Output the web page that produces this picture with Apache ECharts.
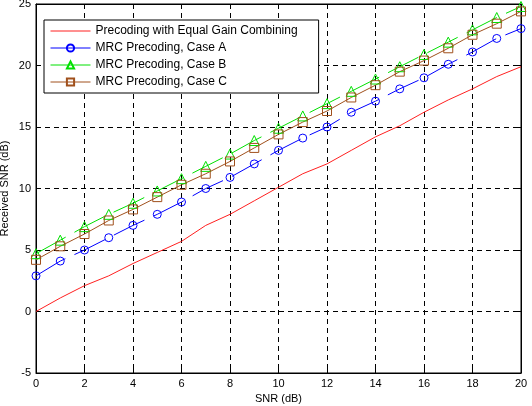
<!DOCTYPE html>
<html lang="en">
<head>
    <meta charset="utf-8">
    <title>Received SNR</title>
    <script src="https://cdn.jsdelivr.net/npm/echarts@6/dist/echarts.min.js"></script>
    <style>
        html, body { margin: 0; padding: 0; background: #fff; }
        #main { width: 532px; height: 406px; }
    </style>
</head>
<body>
<div id="main"></div>
<script>
    // SNR (dB) on the x axis
    var snr = [0, 1, 2, 3, 4, 5, 6, 7, 8, 9, 10, 11, 12, 13, 14, 15, 16, 17, 18, 19, 20];
    var egc = [0, 1.1, 2.1, 2.9, 3.9, 4.8, 5.7, 7.0, 7.9, 9.0, 10.1, 11.2, 12.0, 13.1, 14.2, 15.1, 16.2, 17.2, 18.1, 19.1, 19.9];
    var caseA = [2.9, 4.1, 5.0, 6.0, 7.0, 7.9, 8.9, 10.0, 10.9, 12.0, 13.1, 14.1, 15.0, 16.2, 17.1, 18.1, 19.0, 20.1, 21.1, 22.2, 23.0];
    var caseB = [4.7, 5.8, 6.9, 7.9, 8.8, 9.8, 10.8, 11.8, 12.8, 13.9, 14.9, 15.9, 16.9, 17.9, 18.9, 19.9, 20.9, 21.9, 22.9, 23.9, 24.8];
    var caseC = [4.2, 5.3, 6.3, 7.4, 8.3, 9.3, 10.3, 11.2, 12.2, 13.3, 14.4, 15.4, 16.3, 17.4, 18.4, 19.5, 20.4, 21.4, 22.5, 23.4, 24.4];
    var names = ['Precoding with Equal Gain Combining', 'MRC Precoding, Case A', 'MRC Precoding, Case B', 'MRC Precoding, Case C'];

    function pairs(ys) {
        return snr.map(function (x, i) { return [x, ys[i]]; });
    }

    var font = 'Arial, "Liberation Sans", sans-serif';
    var myChart = echarts.init(document.getElementById('main'));

    // hollow markers, the line shows through them like in matlab
    function marker(c) {
        return { color: 'rgba(255,255,255,0)', borderColor: c, borderWidth: 1 };
    }

    var option = {
        animation: false,
        backgroundColor: '#fff',
        grid: {
            left: 36, right: 11, top: 4, bottom: 33, outerBoundsMode: 'none',
            show: true, borderColor: '#000', borderWidth: 1
        },
        legend: {
            orient: 'vertical',
            left: 44,
            top: 20,
            padding: [5, 21, 5, 6],
            itemGap: 5,
            itemWidth: 40,
            itemHeight: 9,
            borderColor: '#000',
            borderWidth: 1,
            backgroundColor: '#fff',
            textStyle: { fontFamily: font, fontSize: 12, color: '#000' },
            data: [
                { name: names[0], itemStyle: { opacity: 0 }, lineStyle: { width: 1 } },
                { name: names[1], lineStyle: { type: 'solid', width: 1 } },
                { name: names[2], lineStyle: { type: 'solid', width: 1 } },
                { name: names[3], lineStyle: { width: 1 } }
            ]
        },
        xAxis: [{
            type: 'value', min: 0, max: 20, interval: 2,
            name: 'SNR (dB)', nameLocation: 'middle', nameGap: 19,
            nameTextStyle: { fontFamily: font, fontSize: 11, color: '#000' },
            axisLine: { onZero: false, lineStyle: { color: '#000' } },
            axisTick: { inside: true, length: 4, lineStyle: { color: '#000' } },
            axisLabel: { fontFamily: font, fontSize: 11, color: '#000', margin: 5 },
            splitLine: { show: true, lineStyle: { color: '#000', type: [5, 4] } }
        }, {
            type: 'value', min: 0, max: 20, interval: 2, position: 'top',
            axisLine: { onZero: false, lineStyle: { color: '#000' } },
            axisTick: { inside: true, length: 4, lineStyle: { color: '#000' } },
            axisLabel: { show: false }, splitLine: { show: false }
        }],
        yAxis: [{
            type: 'value', min: -5, max: 25, interval: 5,
            name: 'Received SNR (dB)', nameLocation: 'middle', nameGap: 26, nameMoveOverlap: false,
            nameTextStyle: { fontFamily: font, fontSize: 11, color: '#000' },
            axisLine: { show: true, onZero: false, lineStyle: { color: '#000' } },
            axisTick: { show: true, inside: true, length: 4, lineStyle: { color: '#000' } },
            axisLabel: { fontFamily: font, fontSize: 11, color: '#000', margin: 5 },
            splitLine: { show: true, lineStyle: { color: '#000', type: [5, 4] } }
        }, {
            type: 'value', min: -5, max: 25, interval: 5, position: 'right',
            axisLine: { show: true, onZero: false, lineStyle: { color: '#000' } },
            axisTick: { show: true, inside: true, length: 4, lineStyle: { color: '#000' } },
            axisLabel: { show: false }, splitLine: { show: false }
        }],
        series: [{
            name: names[0], type: 'line', data: pairs(egc),
            symbol: 'none', color: '#ff2020',
            lineStyle: { width: 1, color: '#ff2020' }
        }, {
            name: names[1], type: 'line', data: pairs(caseA),
            symbol: 'circle', symbolSize: 8, showSymbol: true, color: '#0000ff',
            itemStyle: marker('#0000ff'),
            lineStyle: { width: 1, color: '#0000ff', type: [34, 10] }
        }, {
            name: names[2], type: 'line', data: pairs(caseB),
            symbol: 'triangle', symbolSize: 10, showSymbol: true, color: '#00e000',
            itemStyle: marker('#00e000'),
            lineStyle: { width: 1, color: '#00e000', type: [34, 10] }
        }, {
            name: names[3], type: 'line', data: pairs(caseC),
            symbol: 'rect', symbolSize: 9, showSymbol: true, color: '#a0501c',
            itemStyle: marker('#a0501c'),
            lineStyle: { width: 1, color: '#a0501c', type: 'solid' }
        }]
    };
    myChart.setOption(option);
</script>
</body>
</html>
